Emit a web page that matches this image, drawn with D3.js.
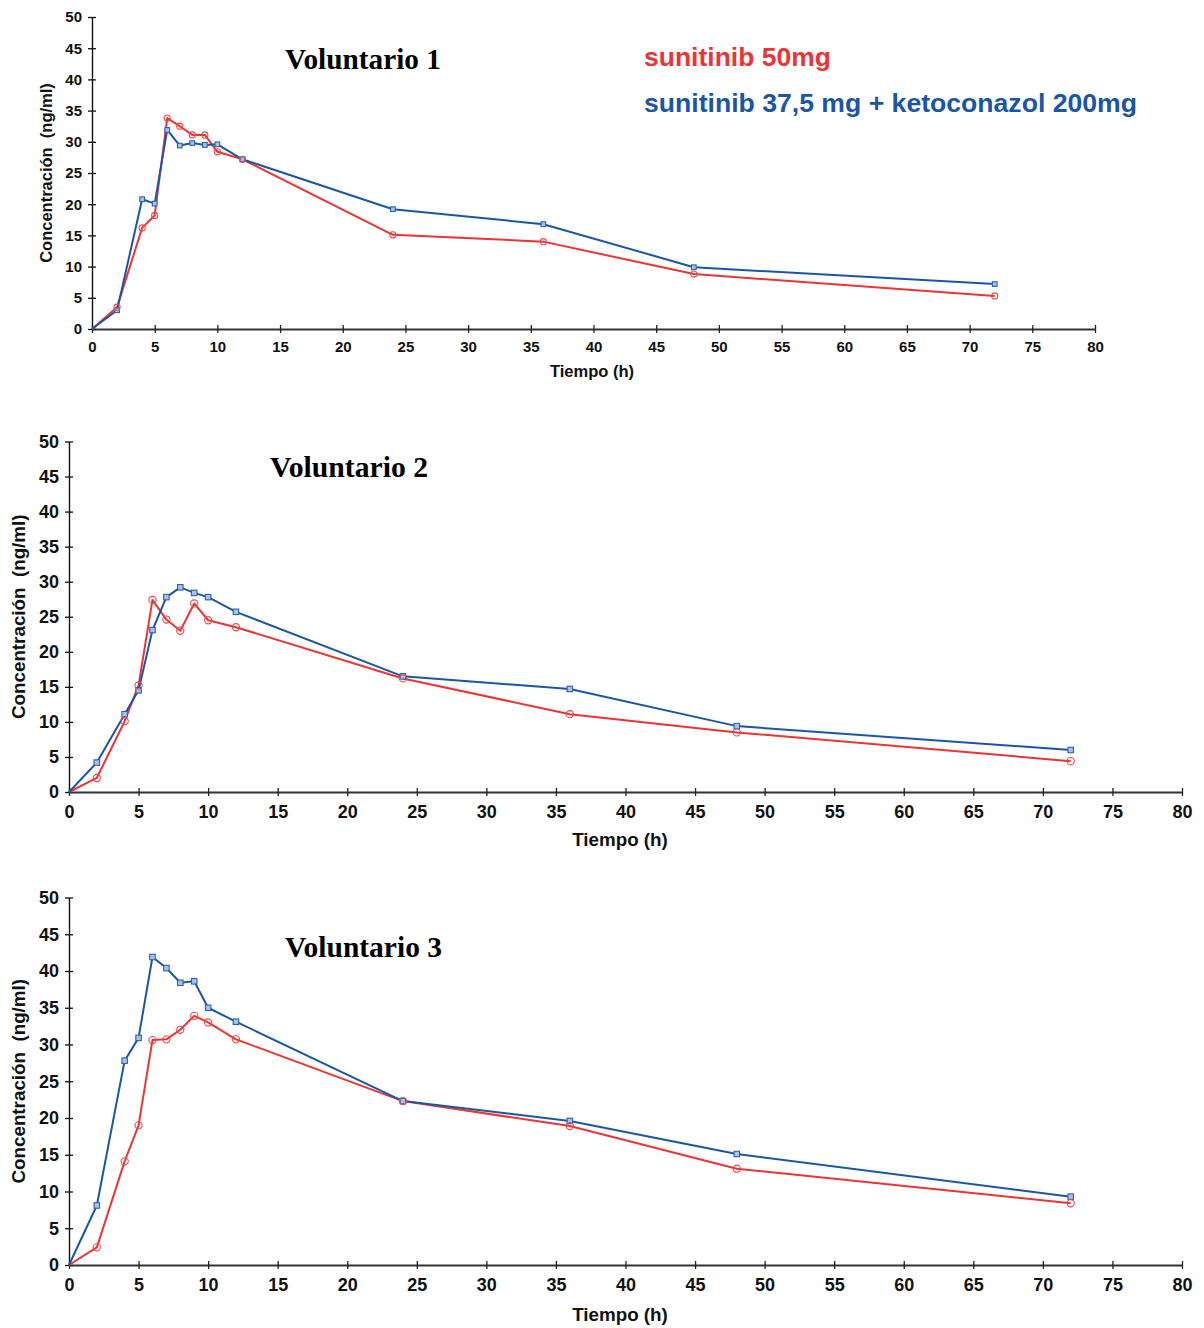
<!DOCTYPE html>
<html>
<head>
<meta charset="utf-8">
<script src="https://cdn.jsdelivr.net/npm/d3@7"></script>
<style>
  html, body { margin: 0; padding: 0; background: #fff; }
  svg text { font-family: "Liberation Sans", Arial, sans-serif; }
</style>
</head>
<body>
<svg id="chart" width="1204" height="1328"></svg>
<script>
// Sampling times (h)
const times = [0, 2, 4, 5, 6, 7, 8, 9, 10, 12, 24, 36, 48, 72];

// Plasma concentration (ng/ml) per volunteer
const v1Sunitinib = [0, 3.5, 16.2, 18.2, 33.8, 32.5, 31.1, 31.1, 28.4, 27.2, 15.1, 14.0, 8.8, 5.3];
const v1SunitinibKeto = [0, 3.0, 20.8, 20.1, 31.9, 29.4, 29.8, 29.5, 29.6, 27.2, 19.2, 16.8, 9.9, 7.2];

const v2Sunitinib = [0, 2.0, 10.1, 15.2, 27.4, 24.6, 23.0, 26.9, 24.5, 23.5, 16.2, 11.1, 8.5, 4.4];
const v2SunitinibKeto = [0, 4.2, 11.1, 14.5, 23.1, 27.8, 29.2, 28.4, 27.8, 25.7, 16.5, 14.7, 9.4, 6.0];

const v3Sunitinib = [0, 2.4, 14.1, 19.0, 30.6, 30.7, 32.0, 33.9, 33.0, 30.7, 22.3, 18.9, 13.1, 8.4];
const v3SunitinibKeto = [0, 8.1, 27.8, 30.9, 41.9, 40.4, 38.4, 38.6, 35.0, 33.1, 22.3, 19.6, 15.1, 9.3];

// Axis ticks
const xTicks = [0, 5, 10, 15, 20, 25, 30, 35, 40, 45, 50, 55, 60, 65, 70, 75, 80];
const yTicks = [0, 5, 10, 15, 20, 25, 30, 35, 40, 45, 50];

// Labels
const panelTitles = ["Voluntario 1", "Voluntario 2", "Voluntario 3"];
const seriesNames = ["sunitinib 50mg", "sunitinib 37,5 mg + ketoconazol 200mg"];
const xAxisTitle = "Tiempo (h)";
const yAxisTitle = "Concentración  (ng/ml)";

const RED = "#ee3334";
const BLUE = "#1b56a6";

const svg = d3.select("#chart");

const panels = [
  { title: panelTitles[0], red: v1Sunitinib, blue: v1SunitinibKeto,
    x0: 92, x1: 1095, yTop: 17, yBot: 329, font: 15, pad: 8, axisTitle: 16.5,
    yTitleX: 46, xTitleX: 592, xTitleY: 377, titleX: 285, titleY: 69, titleW: 156, mark: 0.85 },
  { title: panelTitles[1], red: v2Sunitinib, blue: v2SunitinibKeto,
    x0: 69, x1: 1182, yTop: 441.5, yBot: 792, font: 18, pad: 9, axisTitle: 18.8,
    yTitleX: 18, xTitleX: 620, xTitleY: 846, titleX: 270, titleY: 477, titleW: 158, mark: 1 },
  { title: panelTitles[2], red: v3Sunitinib, blue: v3SunitinibKeto,
    x0: 69, x1: 1182, yTop: 897.5, yBot: 1265, font: 18, pad: 9, axisTitle: 18.8,
    yTitleX: 18, xTitleX: 620, xTitleY: 1321, titleX: 285, titleY: 957, titleW: 157, mark: 1 }
];

panels.forEach(p => {
  const x = d3.scaleLinear().domain([0, 80]).range([p.x0, p.x1]);
  const y = d3.scaleLinear().domain([0, 50]).range([p.yBot, p.yTop]);
  const g = svg.append("g");

  // y axis with ticks crossing the axis line
  const yAxis = g.append("g")
    .attr("transform", `translate(${p.x0},0)`)
    .call(d3.axisLeft(y).tickValues(yTicks).tickSize(4).tickPadding(6).tickSizeOuter(0));
  yAxis.select(".domain").attr("stroke", "#111").attr("stroke-width", 1.4);
  yAxis.selectAll(".tick line").attr("x1", 4).attr("stroke", "#111").attr("stroke-width", 1.3);
  yAxis.selectAll(".tick text")
    .attr("font-size", p.font).attr("font-weight", "bold").attr("fill", "#111")
    .attr("font-family", "Liberation Sans, Arial, sans-serif");

  // x axis
  const xAxis = g.append("g")
    .attr("transform", `translate(0,${p.yBot})`)
    .call(d3.axisBottom(x).tickValues(xTicks).tickSize(4).tickPadding(p.pad).tickSizeOuter(0));
  xAxis.select(".domain").attr("stroke", "#333").attr("stroke-width", 2);
  xAxis.selectAll(".tick line").attr("y1", -4).attr("stroke", "#222").attr("stroke-width", 1.3);
  xAxis.selectAll(".tick text")
    .attr("font-size", p.font).attr("font-weight", "bold").attr("fill", "#111")
    .attr("font-family", "Liberation Sans, Arial, sans-serif");

  // axis titles
  g.append("text")
    .attr("transform", `translate(${p.yTitleX},${(p.yTop + p.yBot) / 2}) rotate(-90)`)
    .attr("text-anchor", "middle")
    .attr("dy", "0.35em")
    .attr("font-size", p.axisTitle)
    .attr("font-weight", "bold")
    .attr("fill", "#111")
    .style("white-space", "pre")
    .text(yAxisTitle);

  g.append("text")
    .attr("x", p.xTitleX).attr("y", p.xTitleY)
    .attr("text-anchor", "middle")
    .attr("font-size", p.axisTitle)
    .attr("font-weight", "bold")
    .attr("fill", "#111")
    .text(xAxisTitle);

  // panel title
  g.append("text")
    .attr("x", p.titleX).attr("y", p.titleY)
    .style("font-family", "'Liberation Serif', 'Times New Roman', serif")
    .attr("font-size", 28.5)
    .attr("font-weight", "bold")
    .attr("fill", "#000")
    .attr("textLength", p.titleW)
    .attr("lengthAdjust", "spacingAndGlyphs")
    .text(p.title);

  const line = d3.line().x((d, i) => x(times[i])).y(d => y(d));

  // sunitinib 50mg (red, open circles)
  g.append("path").datum(p.red)
    .attr("d", line).attr("fill", "none")
    .attr("stroke", RED).attr("stroke-width", 2).attr("stroke-linejoin", "round");
  // sunitinib + ketoconazol (blue, squares)
  g.append("path").datum(p.blue)
    .attr("d", line).attr("fill", "none")
    .attr("stroke", BLUE).attr("stroke-width", 2).attr("stroke-linejoin", "round");

  const s = 5.5 * p.mark;
  g.selectAll(".sq").data(p.blue.slice(1)).join("rect")
    .attr("x", (d, i) => x(times[i + 1]) - s / 2)
    .attr("y", d => y(d) - s / 2)
    .attr("width", s).attr("height", s)
    .attr("fill", "#a9c1e4").attr("stroke", "#2a62b0").attr("stroke-width", 1.1);

  g.selectAll(".ci").data(p.red.slice(1)).join("circle")
    .attr("cx", (d, i) => x(times[i + 1]))
    .attr("cy", d => y(d))
    .attr("r", 3.6 * p.mark)
    .attr("fill", "none").attr("stroke", "#f0484a").attr("stroke-width", 1.1);
});

// legend
svg.append("text")
  .attr("x", 644).attr("y", 66)
  .attr("font-size", 25).attr("font-weight", "bold").attr("fill", RED)
  .attr("textLength", 187).attr("lengthAdjust", "spacingAndGlyphs")
  .text(seriesNames[0]);
svg.append("text")
  .attr("x", 644).attr("y", 112)
  .attr("font-size", 25).attr("font-weight", "bold").attr("fill", BLUE)
  .attr("textLength", 493).attr("lengthAdjust", "spacingAndGlyphs")
  .text(seriesNames[1]);
</script>
</body>
</html>
